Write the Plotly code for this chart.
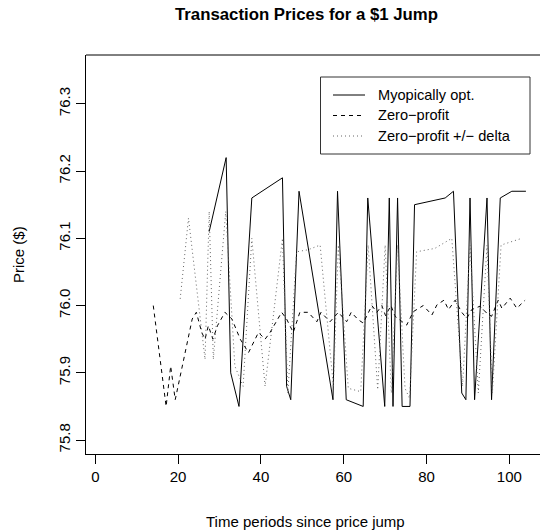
import plotly.graph_objects as go

# ---- data ----
myopic_x = [27.5, 31.6, 32.7, 34.7, 37.8, 45.2, 46.2, 47.2, 49.2, 57.4, 58.5, 60.6, 64.7, 65.8,
            69.9, 71.0, 71.9, 73.0, 74.1, 76.0, 77.1, 84.5, 86.5, 88.5, 89.5, 90.5, 91.6,
            94.6, 95.7, 97.8, 100.6, 104.0]
myopic_p = [76.11, 76.22, 75.90, 75.85, 76.16, 76.19, 75.88, 75.86, 76.17, 75.86, 76.17, 75.86,
            75.85, 76.16, 75.85, 76.16, 75.85, 76.16, 75.85, 75.85, 76.15, 76.16, 76.17, 75.87,
            75.86, 76.16, 75.86, 76.16, 75.86, 76.16, 76.17, 76.17]

zero_x = [14.0, 17.1, 18.2, 19.3, 23.4, 24.4, 25.7, 26.5, 27.3, 28.4, 29.5, 31.3, 33.0, 35.0,
          37.0, 39.4, 41.0, 42.2, 45.0, 46.2, 47.8, 49.4, 51.4, 53.5, 54.5, 56.7, 58.7, 60.7,
          61.8, 63.5, 64.7, 66.8, 68.0, 69.2, 70.1, 71.4, 72.4, 75.2, 76.8, 79.2, 81.3, 82.5,
          84.2, 85.3, 86.9, 88.5, 89.7, 90.9, 92.9, 94.5, 95.7, 97.3, 98.2, 100.2, 101.8, 103.8]
zero_p = [76.00, 75.85, 75.91, 75.86, 75.98, 75.99, 75.96, 75.95, 75.97, 75.95, 75.97, 75.99,
          75.98, 75.95, 75.93, 75.96, 75.95, 75.96, 75.99, 75.98, 75.96, 75.99, 75.99, 75.976,
          75.99, 75.976, 75.99, 75.976, 75.99, 75.979, 75.974, 76.00, 75.99, 76.00, 75.985,
          76.00, 75.984, 75.971, 75.991, 76.00, 75.986, 76.001, 76.008, 75.994, 76.008, 75.99,
          75.981, 75.994, 75.999, 75.989, 75.984, 76.008, 75.996, 76.011, 75.996, 76.008]

delta_x = [20.5, 22.5, 26.5, 27.5, 28.5, 31.5, 33.7, 35.7, 37.8, 41.0, 45.2, 46.5, 48.6, 51.4,
           54.3, 57.5, 58.7, 61.1, 64.1, 65.9, 68.2, 70.0, 71.5, 73.0, 74.8, 75.9, 77.6, 82.0,
           86.1, 88.7, 90.5, 92.5, 94.6, 95.9, 98.0, 103.0]
delta_p = [76.01, 76.13, 75.92, 76.14, 75.92, 76.14, 75.91, 75.88, 76.10, 75.88, 76.10, 75.87,
           76.08, 76.083, 76.09, 75.88, 76.09, 75.877, 75.872, 76.09, 75.875, 76.09, 75.87,
           76.09, 75.877, 75.862, 76.08, 76.085, 76.10, 75.88, 76.09, 75.87, 76.09, 75.87,
           76.09, 76.10]

x_ticks = [0, 20, 40, 60, 80, 100]
y_ticks = [75.8, 75.9, 76.0, 76.1, 76.2, 76.3]
legend_labels = ["Myopically opt.", "Zero\u2212profit", "Zero\u2212profit +/\u2212 delta"]

FONT = "Liberation Sans, Arial, Helvetica, sans-serif"
L, R, T, B = 86, 0, 55, 77
W, H = 540, 531
PW, PH = W - L - R, H - T - B


def px(x):
    return (x - L) / PW


def py(y):
    return (H - B - y) / PH


fig = go.Figure()
fig.add_trace(go.Scatter(x=myopic_x, y=myopic_p, mode="lines",
                         line=dict(color="black", width=1), showlegend=False))
fig.add_trace(go.Scatter(x=zero_x, y=zero_p, mode="lines",
                         line=dict(color="black", width=1, dash="4px,4px"), showlegend=False))
fig.add_trace(go.Scatter(x=delta_x, y=delta_p, mode="lines",
                         line=dict(color="#666666", width=1, dash="1px,3px"), showlegend=False))

shapes = [
    dict(type="line", xref="paper", yref="paper", x0=0, x1=1.05, y0=1, y1=1,
         line=dict(color="black", width=1)),
    # legend box
    dict(type="rect", xref="paper", yref="paper", x0=px(320.5), x1=px(530), y0=py(154), y1=py(77),
         line=dict(color="#333333", width=1), fillcolor="white"),
]
styles = [dict(color="black", width=1), dict(color="black", width=1, dash="4px,4px"),
          dict(color="#666666", width=1, dash="1px,3px")]
ann = []
for i, (lab, st) in enumerate(zip(legend_labels, styles)):
    yy = 95 + i * 20.5
    shapes.append(dict(type="line", xref="paper", yref="paper", x0=px(333), x1=px(365),
                       y0=py(yy), y1=py(yy), line=st))
    ann.append(dict(text=lab, xref="paper", yref="paper", x=px(376), y=py(yy), xanchor="left",
                    yanchor="middle", showarrow=False, font=dict(size=14.6, color="black", family=FONT)))

ann.append(dict(text="<b>Transaction Prices for a $1 Jump</b>", xref="paper", yref="paper",
                x=px(306), y=py(14), xanchor="center", yanchor="middle", showarrow=False,
                font=dict(size=16.8, color="black", family=FONT)))
ann.append(dict(text="Time periods since price jump", xref="paper", yref="paper",
                x=px(305), y=py(521), xanchor="center", yanchor="middle", showarrow=False,
                font=dict(size=15, color="black", family=FONT)))
ann.append(dict(text="Price ($)", xref="paper", yref="paper", x=px(18), y=py(255),
                xanchor="center", yanchor="middle", textangle=-90, showarrow=False,
                font=dict(size=15, color="black", family=FONT)))

fig.update_layout(
    width=W, height=H, margin=dict(l=L, r=R, t=T, b=B),
    paper_bgcolor="white", plot_bgcolor="white",
    font=dict(family=FONT, size=15, color="black"),
    shapes=shapes, annotations=ann,
    xaxis=dict(range=[-2.25, 107.4], tickvals=x_ticks, ticktext=[str(v) for v in x_ticks],
               showgrid=False, zeroline=False, showline=True, linecolor="black", linewidth=1,
               ticks="outside", ticklen=9, tickcolor="black", tickfont=dict(size=15)),
    yaxis=dict(range=[75.7793, 76.3726], tickvals=y_ticks, ticktext=[f"{v:.1f}" for v in y_ticks],
               showgrid=False, zeroline=False, showline=True, linecolor="black", linewidth=1,
               ticks="outside", ticklen=9, tickcolor="black", tickangle=-90, tickfont=dict(size=15)),
)

fig.write_html("out.html")
